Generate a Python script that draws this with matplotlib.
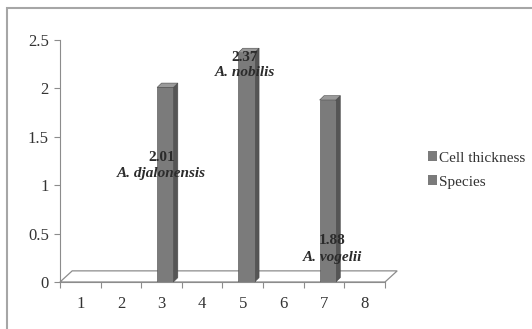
import matplotlib.pyplot as plt
from matplotlib.patches import Polygon, Rectangle, Patch

plt.rcParams['font.family'] = ['Liberation Serif', 'DejaVu Serif']

categories = [1, 2, 3, 4, 5, 6, 7, 8]
bar_x = [3, 5, 7]
cell_thickness = [2.01, 2.37, 1.88]
species = ['A. djalonensis', 'A. nobilis', 'A. vogelii']
y_ticks = [0, 0.5, 1, 1.5, 2, 2.5]
y_labels = ['0', '0.5', '1', '1.5', '2', '2.5']

front = '#7b7b7b'
side = '#555555'
top = '#9a9a9a'
txt = '#2b2b2b'

fig = plt.figure(figsize=(5.32, 3.29), dpi=100)
ax = fig.add_axes([60 / 532, 47 / 329, 325 / 532, 242 / 329])
ax.set_xlim(0.5, 8.5)
ax.set_ylim(0, 2.5)

# outer chart border
fig.patches.append(Rectangle((7 / 532, -0.1), 1.2, 1 - 8 / 329 + 0.1,
                             transform=fig.transFigure, fill=False,
                             edgecolor='#a6a6a6', lw=1.5))

# 3D floor
fdx, fdy = 0.3, 0.115
floor = Polygon([(0.5, 0), (8.5, 0), (8.5 + fdx, fdy), (0.5 + fdx, fdy)],
                closed=True, facecolor='white', edgecolor='#8c8c8c', lw=0.9,
                clip_on=False, zorder=1)
ax.add_patch(floor)

# bars with fake depth
w = 0.4
dx, dy = 0.11, 0.045
for x, v in zip(bar_x, cell_thickness):
    x0 = x - w / 2 + 0.09
    x1 = x0 + w
    ax.add_patch(Polygon([(x1, 0), (x1 + dx, dy), (x1 + dx, v + dy), (x1, v)],
                         closed=True, facecolor=side, edgecolor='#4a4a4a',
                         lw=0.4, zorder=3, clip_on=False))
    ax.add_patch(Polygon([(x0, v), (x1, v), (x1 + dx, v + dy), (x0 + dx, v + dy)],
                         closed=True, facecolor=top, edgecolor='#4a4a4a',
                         lw=0.4, zorder=3, clip_on=False))
ax.bar([x + 0.09 for x in bar_x], cell_thickness, width=w, color=front,
       edgecolor='#4a4a4a', lw=0.4, zorder=4)

# value / species labels
label_pos = [(3, 1.29, 1.12), (5.05, 2.32, 2.16), (7.2, 0.43, 0.25)]
for (lx, vy, sy), v, s in zip(label_pos, cell_thickness, species):
    ax.text(lx, vy, f'{v:.2f}', ha='center', va='center', fontsize=11,
            fontweight='bold', color=txt, zorder=6)
    ax.text(lx, sy, s, ha='center', va='center', fontsize=11,
            fontweight='bold', fontstyle='italic', color=txt, zorder=6)

for s in ['top', 'right']:
    ax.spines[s].set_visible(False)
ax.spines['left'].set_color('#8c8c8c')
ax.spines['bottom'].set_color('#8c8c8c')
ax.spines['bottom'].set_zorder(2)

ax.set_yticks(y_ticks)
ax.set_yticklabels(y_labels)
ax.set_xticks([c - 0.5 for c in categories] + [8.5])
ax.set_xticklabels([])
ax.set_xticks(categories, minor=True)
ax.set_xticklabels([str(c) for c in categories], minor=True)
ax.tick_params(axis='x', which='minor', length=0, pad=10, labelsize=12,
               labelcolor='#333333')
ax.tick_params(axis='x', which='major', length=4, color='#8c8c8c')
ax.tick_params(axis='y', length=4, color='#8c8c8c', labelsize=12,
               labelcolor='#333333', pad=4)
ax.patch.set_visible(False)

handles = [Patch(facecolor=front), Patch(facecolor=front)]
fig.legend(handles, ['Cell thickness', 'Species'], loc='center left',
           bbox_to_anchor=(414 / 532, 1 - 170 / 329), frameon=False,
           fontsize=11, handlelength=0.6, handleheight=0.6,
           handletextpad=0.15, labelspacing=0.7, labelcolor='#333333')

fig.savefig('out.png', dpi=100)
